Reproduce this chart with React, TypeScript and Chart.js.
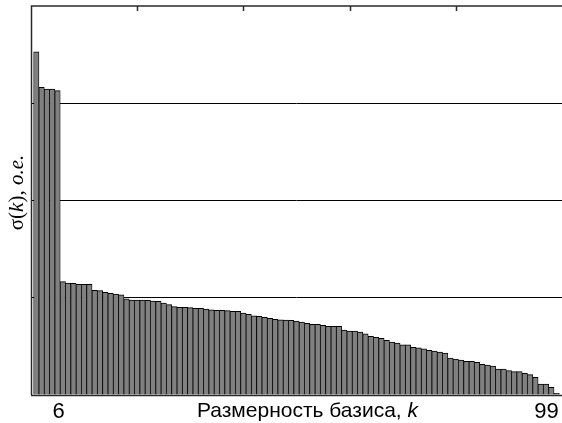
import React, { useEffect, useRef } from "react";
import { Chart, registerables } from "chart.js";

Chart.register(...registerables);

// Basis dimension k (1..99)
const K: number[] = Array.from({ length: 99 }, (_, i) => i + 1);

// sigma(k), relative units
const SIGMA: number[] = [
  3.53, 3.164, 3.146, 3.146, 3.129, 1.165, 1.152, 1.149, 1.138, 1.138,
  1.138, 1.076, 1.073, 1.056, 1.046, 1.039, 1.031, 0.99, 0.977, 0.977,
  0.977, 0.973, 0.967, 0.963, 0.946, 0.929, 0.908, 0.901, 0.901, 0.898,
  0.891, 0.891, 0.884, 0.877, 0.871, 0.871, 0.867, 0.86, 0.86, 0.843,
  0.83, 0.815, 0.809, 0.799, 0.788, 0.778, 0.774, 0.771, 0.768, 0.761,
  0.751, 0.737, 0.727, 0.727, 0.717, 0.706, 0.706, 0.706, 0.668, 0.658,
  0.658, 0.648, 0.63, 0.603, 0.593, 0.583, 0.562, 0.545, 0.535, 0.517,
  0.517, 0.49, 0.486, 0.476, 0.46, 0.452, 0.442, 0.432, 0.38, 0.37,
  0.36, 0.346, 0.346, 0.336, 0.316, 0.308, 0.298, 0.267, 0.267, 0.25,
  0.24, 0.24, 0.223, 0.209, 0.182, 0.113, 0.113, 0.079, 0.017,
];

const X_MIN = 0;
const X_MAX = 100;
const Y_MIN = 0;
const Y_MAX = 4;
const TOP_TICKS: number[] = [20, 40, 60, 80];
const Y_GRID: number[] = [1, 2, 3];
const X_LABELS: number[] = [6, 99];
const X_TITLE = "Размерность базиса, ";
const X_TITLE_VAR = "k";

const SANS = '"Liberation Sans", Arial, sans-serif';
const SERIF = '"Liberation Serif", "Times New Roman", serif';

const decorPlugin = {
  id: "decor",
  afterDraw(chart: any) {
    const { ctx, chartArea, scales } = chart;
    const { left, top, right, bottom } = chartArea;
    const xs = scales.x;
    ctx.save();
    // frame
    ctx.strokeStyle = "#2a2a2a";
    ctx.lineWidth = 1.5;
    ctx.beginPath();
    ctx.moveTo(left + 0.5, bottom);
    ctx.lineTo(left + 0.5, top);
    ctx.lineTo(right, top);
    ctx.moveTo(left, bottom + 0.5);
    ctx.lineTo(right, bottom + 0.5);
    ctx.stroke();
    // top inward ticks
    ctx.beginPath();
    for (const v of TOP_TICKS) {
      const px = Math.round(xs.getPixelForValue(v)) + 0.5;
      ctx.moveTo(px, top);
      ctx.lineTo(px, top + 5);
    }
    ctx.stroke();

    // x tick labels
    ctx.fillStyle = "#000";
    ctx.font = `22px ${SANS}`;
    ctx.textAlign = "right";
    ctx.textBaseline = "alphabetic";
    for (const v of X_LABELS) {
      ctx.fillText(String(v), xs.getPixelForValue(v) + 2, bottom + 23);
    }

    // x title
    ctx.font = `21px ${SANS}`;
    const w1 = ctx.measureText(X_TITLE).width;
    ctx.font = `italic 21px ${SANS}`;
    const w2 = ctx.measureText(X_TITLE_VAR).width;
    const cx = (left + right) / 2 + 11;
    const sx = cx - (w1 + w2) / 2;
    ctx.textAlign = "left";
    ctx.font = `21px ${SANS}`;
    ctx.fillText(X_TITLE, sx, bottom + 22);
    ctx.font = `italic 21px ${SANS}`;
    ctx.fillText(X_TITLE_VAR, sx + w1, bottom + 22);

    // y title: σ(k), o.e.
    const parts: [string, boolean][] = [
      ["σ(", false],
      ["k", true],
      ["), ", false],
      ["o.e.", true],
    ];
    ctx.save();
    ctx.translate(left - 8, (top + bottom) / 2 - 8);
    ctx.rotate(-Math.PI / 2);
    let total = 0;
    const widths: number[] = [];
    for (const [t, it] of parts) {
      ctx.font = `${it ? "italic " : ""}21px ${SERIF}`;
      const w = ctx.measureText(t).width;
      widths.push(w);
      total += w;
    }
    let px = -total / 2;
    ctx.textAlign = "left";
    parts.forEach(([t, it], i) => {
      ctx.font = `${it ? "italic " : ""}21px ${SERIF}`;
      ctx.fillText(t, px, 0);
      px += widths[i];
    });
    ctx.restore();
    ctx.restore();
  },
};

export default function App() {
  const ref = useRef<HTMLCanvasElement | null>(null);
  useEffect(() => {
    if (!ref.current) return;
    const chart = new Chart(ref.current, {
      type: "bar",
      data: {
        datasets: [
          {
            data: K.map((k, i) => ({ x: k, y: SIGMA[i] })),
            backgroundColor: "#808080",
            borderColor: "#000",
            borderWidth: { top: 1, left: 0.8, right: 0.8, bottom: 0 },
            borderSkipped: false,
            barPercentage: 1,
            categoryPercentage: 1,
          },
        ],
      },
      options: {
        animation: false,
        responsive: true,
        maintainAspectRatio: false,
        layout: { padding: { left: 31, top: 6, right: 0, bottom: 28 } },
        plugins: { legend: { display: false }, tooltip: { enabled: false } },
        scales: {
          x: {
            type: "linear",
            min: X_MIN,
            max: X_MAX,
            offset: false,
            ticks: { display: false },
            grid: { display: false, drawTicks: false, offset: false },
            border: { display: false },
          },
          y: {
            min: Y_MIN,
            max: Y_MAX,
            ticks: { display: false, stepSize: 1 },
            grid: {
              drawTicks: false,
              lineWidth: 1,
              color: (c: any) =>
                Y_GRID.includes(c.tick?.value) ? "#000" : "rgba(0,0,0,0)",
            },
            border: { display: false },
          },
        },
      },
      plugins: [decorPlugin],
    });
    return () => chart.destroy();
  }, []);
  return (
    <div
      style={{
        position: "fixed",
        left: 0,
        top: 0,
        width: 562,
        height: 423,
        background: "#fff",
      }}
    >
      <canvas ref={ref} />
    </div>
  );
}
